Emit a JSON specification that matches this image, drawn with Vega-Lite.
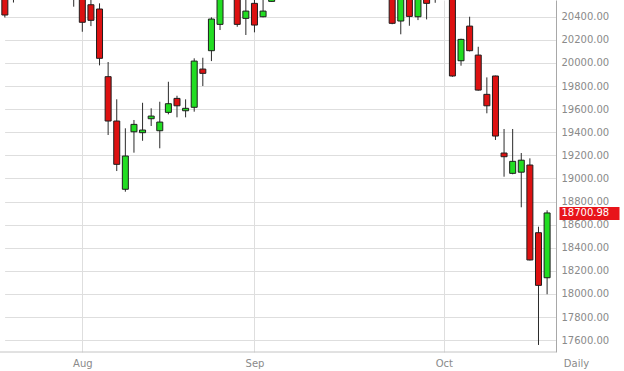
{
  "$schema": "https://vega.github.io/schema/vega-lite/v6.json",
  "width": 556,
  "height": 352,
  "autosize": {"type": "none"},
  "padding": {"left": 0, "top": 0, "right": 68, "bottom": 19},
  "background": "white",
  "config": {"font": "DejaVu Sans", "view": {"stroke": null}},
  "data": {"values": [
    {"date": "2014-07-21", "open": 20640, "high": 20700, "low": 20393, "close": 20415},
    {"date": "2014-07-22", "open": 20600, "high": 20720, "low": 20523, "close": 20680},
    {"date": "2014-07-23", "open": 20690, "high": 20790, "low": 20640, "close": 20760},
    {"date": "2014-07-24", "open": 20770, "high": 20880, "low": 20730, "close": 20850},
    {"date": "2014-07-25", "open": 20840, "high": 20900, "low": 20770, "close": 20800},
    {"date": "2014-07-28", "open": 20810, "high": 20870, "low": 20720, "close": 20760},
    {"date": "2014-07-29", "open": 20770, "high": 20840, "low": 20690, "close": 20720},
    {"date": "2014-07-30", "open": 20730, "high": 20790, "low": 20620, "close": 20650},
    {"date": "2014-07-31", "open": 20660, "high": 20700, "low": 20487, "close": 20580},
    {"date": "2014-08-01", "open": 20560, "high": 20600, "low": 20270, "close": 20352},
    {"date": "2014-08-04", "open": 20504, "high": 20570, "low": 20319, "close": 20369},
    {"date": "2014-08-05", "open": 20467, "high": 20516, "low": 19979, "close": 20040},
    {"date": "2014-08-06", "open": 19881, "high": 20008, "low": 19376, "close": 19497},
    {"date": "2014-08-07", "open": 19497, "high": 19685, "low": 19064, "close": 19122},
    {"date": "2014-08-08", "open": 18906, "high": 19434, "low": 18885, "close": 19194},
    {"date": "2014-08-11", "open": 19404, "high": 19506, "low": 19223, "close": 19468},
    {"date": "2014-08-12", "open": 19396, "high": 19655, "low": 19326, "close": 19419},
    {"date": "2014-08-13", "open": 19517, "high": 19607, "low": 19454, "close": 19540},
    {"date": "2014-08-14", "open": 19413, "high": 19664, "low": 19261, "close": 19488},
    {"date": "2014-08-18", "open": 19572, "high": 19837, "low": 19555, "close": 19647},
    {"date": "2014-08-19", "open": 19693, "high": 19716, "low": 19529, "close": 19629},
    {"date": "2014-08-20", "open": 19586, "high": 19685, "low": 19529, "close": 19607},
    {"date": "2014-08-21", "open": 19616, "high": 20040, "low": 19578, "close": 20016},
    {"date": "2014-08-22", "open": 19947, "high": 20045, "low": 19800, "close": 19910},
    {"date": "2014-08-25", "open": 20106, "high": 20395, "low": 20016, "close": 20380},
    {"date": "2014-08-26", "open": 20334, "high": 20620, "low": 20285, "close": 20580},
    {"date": "2014-08-27", "open": 20620, "high": 20700, "low": 20570, "close": 20650},
    {"date": "2014-08-28", "open": 20640, "high": 20690, "low": 20313, "close": 20334},
    {"date": "2014-08-29", "open": 20386, "high": 20580, "low": 20242, "close": 20449},
    {"date": "2014-09-01", "open": 20516, "high": 20570, "low": 20265, "close": 20328},
    {"date": "2014-09-02", "open": 20400, "high": 20580, "low": 20395, "close": 20449},
    {"date": "2014-09-03", "open": 20533, "high": 20620, "low": 20530, "close": 20600},
    {"date": "2014-09-04", "open": 20610, "high": 20700, "low": 20580, "close": 20680},
    {"date": "2014-09-05", "open": 20690, "high": 20760, "low": 20640, "close": 20720},
    {"date": "2014-09-08", "open": 20730, "high": 20810, "low": 20700, "close": 20790},
    {"date": "2014-09-09", "open": 20780, "high": 20830, "low": 20710, "close": 20740},
    {"date": "2014-09-10", "open": 20720, "high": 20760, "low": 20640, "close": 20690},
    {"date": "2014-09-11", "open": 20700, "high": 20800, "low": 20670, "close": 20770},
    {"date": "2014-09-12", "open": 20790, "high": 20880, "low": 20750, "close": 20850},
    {"date": "2014-09-15", "open": 20860, "high": 20950, "low": 20820, "close": 20910},
    {"date": "2014-09-16", "open": 20890, "high": 20930, "low": 20780, "close": 20810},
    {"date": "2014-09-17", "open": 20820, "high": 20900, "low": 20760, "close": 20870},
    {"date": "2014-09-18", "open": 20880, "high": 21000, "low": 20850, "close": 20960},
    {"date": "2014-09-19", "open": 20970, "high": 21050, "low": 20900, "close": 20930},
    {"date": "2014-09-22", "open": 20900, "high": 20920, "low": 20700, "close": 20740},
    {"date": "2014-09-23", "open": 20700, "high": 20750, "low": 20335, "close": 20343},
    {"date": "2014-09-24", "open": 20363, "high": 20620, "low": 20248, "close": 20580},
    {"date": "2014-09-25", "open": 20600, "high": 20640, "low": 20322, "close": 20403},
    {"date": "2014-09-26", "open": 20400, "high": 20620, "low": 20371, "close": 20570},
    {"date": "2014-09-29", "open": 20580, "high": 20620, "low": 20377, "close": 20516},
    {"date": "2014-09-30", "open": 20600, "high": 20680, "low": 20521, "close": 20570},
    {"date": "2014-10-01", "open": 20620, "high": 20700, "low": 20560, "close": 20600},
    {"date": "2014-10-02", "open": 20590, "high": 20620, "low": 19880, "close": 19887},
    {"date": "2014-10-03", "open": 20019, "high": 20210, "low": 19976, "close": 20204},
    {"date": "2014-10-06", "open": 20319, "high": 20400, "low": 20100, "close": 20106},
    {"date": "2014-10-07", "open": 20068, "high": 20140, "low": 19760, "close": 19765},
    {"date": "2014-10-08", "open": 19728, "high": 19875, "low": 19564, "close": 19629},
    {"date": "2014-10-09", "open": 19887, "high": 19890, "low": 19333, "close": 19367},
    {"date": "2014-10-10", "open": 19220, "high": 19428, "low": 19015, "close": 19188},
    {"date": "2014-10-13", "open": 19044, "high": 19428, "low": 19036, "close": 19148},
    {"date": "2014-10-14", "open": 19054, "high": 19220, "low": 18750, "close": 19158},
    {"date": "2014-10-15", "open": 19116, "high": 19174, "low": 18290, "close": 18294},
    {"date": "2014-10-16", "open": 18530, "high": 18582, "low": 17558, "close": 18074},
    {"date": "2014-10-17", "open": 18140, "high": 18724, "low": 17997, "close": 18700.98}
  ]},
  "encoding": {
    "x": {
      "field": "date",
      "type": "ordinal",
      "scale": {"type": "point", "range": [0.55, 551.4]},
      "axis": {
        "values": ["2014-08-01", "2014-09-01", "2014-10-01"],
        "labelExpr": "utcFormat(toDate(datum.value), '%b')",
        "labelAngle": 0,
        "labelFont": "DejaVu Sans",
        "labelFontSize": 10,
        "labelColor": "#8a8a8a",
        "labelBaseline": "middle",
        "labelPadding": 11,
        "labelOverlap": false,
        "labelFlush": false,
        "ticks": false,
        "domain": false,
        "grid": true,
        "gridColor": "#dedede",
        "gridWidth": 1,
        "title": "Daily",
        "titleFont": "DejaVu Sans",
        "titleFontSize": 10,
        "titleFontWeight": "normal",
        "titleColor": "#8a8a8a",
        "titleX": 576,
        "titleY": 11,
        "titleAlign": "center",
        "titleBaseline": "middle",
        "titleAngle": 0
      }
    },
    "y": {
      "type": "quantitative",
      "scale": {"domain": [17497, 20545], "nice": false, "zero": false},
      "axis": {
        "orient": "right",
        "values": [17600, 17800, 18000, 18200, 18400, 18600, 18800, 19000, 19200, 19400, 19600, 19800, 20000, 20200, 20400, 18700.98],
        "format": ".2f",
        "title": null,
        "labelFont": "DejaVu Sans",
        "labelFontSize": 10,
        "labelColor": {"condition": {"test": "datum.value > 18700 && datum.value < 18702", "value": "#ffffff"}, "value": "#8a8a8a"},
        "labelOverlap": false,
        "labelFlush": false,
        "labelBound": false,
        "labelPadding": -58,
        "ticks": true,
        "tickSize": 63,
        "tickWidth": 13,
        "tickDash": [0, 3, 60, 20],
        "tickColor": {"condition": {"test": "datum.value > 18700 && datum.value < 18702", "value": "#e8141a"}, "value": "transparent"},
        "domain": true,
        "domainColor": "#a8a8a8",
        "domainWidth": 1,
        "grid": true,
        "gridColor": {"condition": {"test": "datum.value > 18700 && datum.value < 18702", "value": "transparent"}, "value": "#dedede"},
        "gridWidth": 1
      }
    }
  },
  "layer": [
    {
      "mark": {"type": "rule", "color": "#2a2a2a", "strokeWidth": 1, "clip": true},
      "encoding": {
        "y": {"field": "low", "type": "quantitative"},
        "y2": {"field": "high"}
      }
    },
    {
      "mark": {"type": "bar", "size": 6, "stroke": "#1e1e1e", "strokeWidth": 1, "clip": true},
      "encoding": {
        "y": {"field": "open", "type": "quantitative"},
        "y2": {"field": "close"},
        "fill": {"condition": {"test": "datum.close >= datum.open", "value": "#22dd22"}, "value": "#dd1111"}
      }
    },
    {
      "data": {"values": [{"edge": 17497}]},
      "mark": {"type": "rule", "color": "#c4c4c4", "strokeWidth": 1},
      "encoding": {
        "x": null,
        "y": {"field": "edge", "type": "quantitative"}
      }
    }
  ]
}
